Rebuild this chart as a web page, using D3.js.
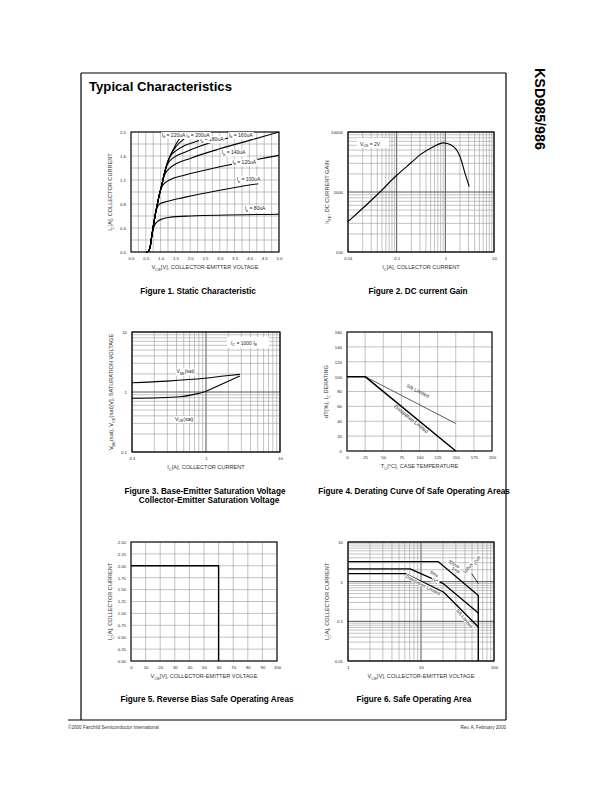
<!DOCTYPE html>
<html><head><meta charset="utf-8">
<script src="https://cdn.jsdelivr.net/npm/d3@7"></script>
<style>
body{margin:0;background:#fff}
svg{display:block}
text{font-family:"Liberation Sans",Arial,sans-serif}
.narrow{font-family:"Liberation Sans Narrow","Liberation Sans",Arial,sans-serif}
</style>
</head><body>
<svg id="page" width="612" height="792"></svg>
<script>
// ---------------- DATA ----------------
// Figure 1: Static characteristic (Vce [V], Ic [A])
const f1XTicks = [0,0.5,1,1.5,2,2.5,3,3.5,4,4.5,5];
const f1XLabels = ["0.0","0.5","1.0","1.5","2.0","2.5","3.0","3.5","4.0","4.5","5.0"];
const f1YTicks = [0,0.4,0.8,1.2,1.6,2.0];
const f1YLabels = ["0.0","0.4","0.8","1.2","1.6","2.0"];
const ib80  = [[0.53,0],[0.58,0.01],[0.62,0.04],[0.66,0.12],[0.70,0.26],[0.74,0.36],[0.80,0.45],[0.90,0.51],[1.05,0.55],[1.30,0.58],[2.00,0.60],[5.00,0.63]];
const ib100 = [[0.53,0],[0.58,0.01],[0.62,0.04],[0.66,0.12],[0.70,0.26],[0.75,0.42],[0.80,0.57],[0.85,0.69],[0.90,0.76],[0.97,0.80],[1.20,0.84],[1.80,0.91],[3.00,1.03],[4.30,1.14]];
const ib120 = [[0.53,0],[0.58,0.01],[0.62,0.04],[0.66,0.12],[0.70,0.26],[0.75,0.42],[0.80,0.57],[0.85,0.70],[0.90,0.82],[0.95,0.94],[1.00,1.03],[1.06,1.10],[1.14,1.15],[1.30,1.20],[1.80,1.28],[3.00,1.42],[5.00,1.61]];
const ib140 = [[0.53,0],[0.58,0.01],[0.62,0.04],[0.66,0.12],[0.70,0.26],[0.75,0.42],[0.80,0.57],[0.85,0.70],[0.90,0.82],[0.95,0.94],[1.00,1.04],[1.05,1.14],[1.10,1.24],[1.16,1.31],[1.25,1.37],[1.45,1.45],[2.00,1.56],[3.00,1.72],[4.00,1.86],[5.00,2.00]];
const ib160 = [[0.53,0],[0.58,0.01],[0.62,0.04],[0.66,0.12],[0.70,0.26],[0.75,0.42],[0.80,0.57],[0.85,0.70],[0.90,0.82],[0.95,0.94],[1.00,1.04],[1.05,1.14],[1.10,1.25],[1.15,1.35],[1.21,1.44],[1.28,1.50],[1.40,1.56],[1.80,1.66],[2.30,1.76],[2.80,1.84],[3.30,1.90]];
const ib180 = [[0.53,0],[0.58,0.01],[0.62,0.04],[0.66,0.12],[0.70,0.26],[0.75,0.42],[0.80,0.57],[0.85,0.70],[0.90,0.82],[0.95,0.94],[1.00,1.04],[1.05,1.14],[1.10,1.25],[1.15,1.35],[1.20,1.44],[1.27,1.54],[1.35,1.61],[1.50,1.68],[1.75,1.76],[2.00,1.81],[2.30,1.86]];
const ib200 = [[0.53,0],[0.58,0.01],[0.62,0.04],[0.66,0.12],[0.70,0.26],[0.75,0.42],[0.80,0.57],[0.85,0.70],[0.90,0.82],[0.95,0.94],[1.00,1.04],[1.05,1.14],[1.10,1.25],[1.15,1.35],[1.20,1.44],[1.27,1.54],[1.35,1.63],[1.45,1.71],[1.60,1.80],[1.75,1.87],[1.88,1.92]];
const ib220 = [[0.53,0],[0.58,0.01],[0.62,0.04],[0.66,0.12],[0.70,0.26],[0.75,0.42],[0.80,0.57],[0.85,0.70],[0.90,0.82],[0.95,0.94],[1.00,1.04],[1.05,1.14],[1.10,1.25],[1.15,1.35],[1.20,1.44],[1.27,1.54],[1.35,1.63],[1.45,1.73],[1.55,1.82],[1.66,1.90]];
const f1Series = [ib80, ib100, ib120, ib140, ib160, ib180, ib200, ib220];
const f1Labels = [
  {t:"I_{b} = 80uA",  x:3.84, y:0.70},
  {t:"I_{b} = 100uA", x:3.57, y:1.18},
  {t:"I_{b} = 120uA", x:3.43, y:1.47},
  {t:"I_{b} = 140uA", x:3.07, y:1.63},
  {t:"I_{b} = 160uA", x:3.31, y:1.92},
  {t:"I_{b} = 180uA", x:2.33, y:1.85},
  {t:"I_{b} = 200uA", x:1.86, y:1.92},
  {t:"I_{b} = 220uA", x:1.04, y:1.92}
];

// Figure 2: DC current gain (Ic [A], hFE)
const f2XTicks = [0.01,0.1,1,10];
const f2XLabels = ["0.01","0.1","1","10"];
const f2YTicks = [100,1000,10000];
const f2YLabels = ["100","1000","10000"];
const hfe = [[0.01,320],[0.046,1010],[0.1,1900],[0.2,3100],[0.3,4150],[0.57,5700],[0.91,6600],[1.35,6000],[2.0,3900],[2.54,2050],[3.1,1230]];

// Figure 3: saturation voltages (Ic [A], V)
const f3XTicks = [0.1,1,10];
const f3XLabels = ["0.1","1","10"];
const f3YTicks = [0.1,1,10];
const f3YLabels = ["0.1","1","10"];
const vbeSat = [[0.1,1.43],[0.3,1.52],[0.96,1.69],[2.0,1.88],[2.87,1.97]];
const vceSat = [[0.1,0.785],[0.44,0.835],[0.745,0.93],[0.96,1.01],[1.54,1.31],[2.87,1.85]];

// Figure 4: derating (Tc [C], %)
const f4XTicks = [0,25,50,75,100,125,150,175,200];
const f4XLabels = ["0","25","50","75","100","125","150","175","200"];
const f4YTicks = [0,20,40,60,80,100,120,140,160];
const f4YLabels = ["0","20","40","60","80","100","120","140","160"];
const dissLimited = [[0,100],[25,100],[150,0]];
const sbLimited = [[25,100],[150,37]];

// Figure 5: reverse bias SOA (Vce [V], Ic [A])
const f5XTicks = [0,10,20,30,40,50,60,70,80,90,100];
const f5XLabels = ["0","10","20","30","40","50","60","70","80","90","100"];
const f5YTicks = [0,0.25,0.5,0.75,1,1.25,1.5,1.75,2,2.25,2.5];
const f5YLabels = ["0.00","0.25","0.50","0.75","1.00","1.25","1.50","1.75","2.00","2.25","2.50"];
const rbsoa = [[0,2.0],[60,2.0],[60,0]];

// Figure 6: SOA (Vce [V], Ic [A])
const f6XTicks = [1,10,100];
const f6XLabels = ["1","10","100"];
const f6YTicks = [0.01,0.1,1,10];
const f6YLabels = ["0.01","0.1","1","10"];
const soaPulse = [[1,3.2],[17.3,3.2],[61,0.45],[61,0.01]];
const soaMid   = [[1,2.1],[7.1,2.1],[20.3,0.89],[61,0.162]];
const soaDC    = [[1,1.6],[6.07,1.6],[20.3,0.55],[61,0.072]];
const soa100us = [[49.5,1.6],[61,0.89]];
const f6Labels = [
  {t:"10us", x:60.4, y:3.26, r:-60},
  {t:"100us", x:45.5, y:2.05, r:-50},
  {t:"300us", x:27.5, y:2.58, r:30},
  {t:"1ms", x:29.3, y:1.82, r:30},
  {t:"5ms", x:14.7, y:1.45, r:30},
  {t:"DC", x:15.1, y:0.96, r:30},
  {t:"Dissipation Limited", x:10.4, y:0.76, r:28},
  {t:"S/b Limited", x:37.7, y:0.112, r:50}
];

// ---------------- DRAWING ----------------
const svg = d3.select("#page");

function rich(sel, str, fs) {
  const parts = str.split(/(_\{[^}]*\})/).filter(s => s.length);
  let sub = false;
  parts.forEach(p => {
    if (p.startsWith("_{")) {
      sel.append("tspan").attr("font-size", fs*0.72).attr("dy", fs*0.3).text(p.slice(2,-1));
      sub = true;
    } else {
      const t = sel.append("tspan").attr("font-size", fs).text(p);
      if (sub) { t.attr("dy", -fs*0.3); sub = false; }
    }
  });
  return sel;
}

function isMajor(v){ const l=Math.log10(v); return Math.abs(l-Math.round(l))<1e-6; }

function chart(o) {
  const g = svg.append("g").attr("transform", `translate(${o.left},${o.top})`);
  const x = (o.xLog ? d3.scaleLog() : d3.scaleLinear()).domain(o.xDomain).range([0, o.w]);
  const y = (o.yLog ? d3.scaleLog() : d3.scaleLinear()).domain(o.yDomain).range([o.h, 0]);
  const xg = o.xLog ? x.ticks() : o.xGrid;
  const yg = o.yLog ? y.ticks() : o.yGrid;
  g.append("g").selectAll("line").data(xg).join("line")
    .attr("x1", d=>x(d)).attr("x2", d=>x(d)).attr("y1",0).attr("y2",o.h)
    .attr("stroke", d => (o.xLog && isMajor(d)) ? "#555" : "#9a9a9a")
    .attr("stroke-width", d => (o.xLog && isMajor(d)) ? 1 : 0.6);
  g.append("g").selectAll("line").data(yg).join("line")
    .attr("y1", d=>y(d)).attr("y2", d=>y(d)).attr("x1",0).attr("x2",o.w)
    .attr("stroke", d => (o.yLog && isMajor(d)) ? "#555" : "#9a9a9a")
    .attr("stroke-width", d => (o.yLog && isMajor(d)) ? 1 : 0.6);
  g.append("rect").attr("width", o.w).attr("height", o.h).attr("fill","none")
    .attr("stroke","#000").attr("stroke-width",1.1);
  const ax = g.append("g").attr("transform", `translate(0,${o.h})`)
    .call(d3.axisBottom(x).tickValues(o.xTicks).tickFormat((d,i)=>o.xLabels[i]).tickSize(0).tickPadding(5));
  const ay = g.append("g")
    .call(d3.axisLeft(y).tickValues(o.yTicks).tickFormat((d,i)=>o.yLabels[i]).tickSize(0).tickPadding(5));
  [ax, ay].forEach(a => {
    a.select(".domain").remove();
    a.selectAll("text").attr("font-size", 4.3).attr("fill", "#222").attr("font-family", '"Liberation Sans",Arial,sans-serif');
  });
  const xt = g.append("text").attr("x", o.w/2 + (o.xtDx||0)).attr("y", o.h + 17)
    .attr("text-anchor","middle").attr("fill","#333");
  rich(xt, o.xTitle, 5.6);
  const yt = g.append("text").attr("transform", `translate(${-19},${o.h/2 + (o.ytDy||0)}) rotate(-90)`)
    .attr("text-anchor","middle").attr("fill","#333");
  rich(yt, o.yTitle, 5.6);
  return {g, x, y};
}

function drawLine(c, data, sw, curve, color) {
  c.g.append("path").datum(data)
    .attr("d", d3.line().x(d=>c.x(d[0])).y(d=>c.y(d[1])).curve(curve || d3.curveLinear))
    .attr("fill","none").attr("stroke", color || "#000").attr("stroke-width", sw)
    .attr("stroke-linejoin","round");
}

function label(c, str, px, py, fs, rot, anchor, bg) {
  const t = c.g.append("text").attr("transform", `translate(${px},${py}) rotate(${rot||0})`)
    .attr("text-anchor", anchor || "start").attr("fill","#222");
  rich(t, str, fs);
  if (bg) {
    const b = t.node().getBBox();
    c.g.insert("rect", () => t.node())
      .attr("transform", `translate(${px},${py}) rotate(${rot||0})`)
      .attr("x", b.x-0.6).attr("y", b.y+0.3).attr("width", b.width+1.2).attr("height", b.height-0.6)
      .attr("fill","#fff");
  }
  return t;
}

// Page frame
svg.append("line").attr("x1",81).attr("x2",81).attr("y1",73).attr("y2",720).attr("stroke","#000").attr("stroke-width",1.2);
svg.append("line").attr("x1",81).attr("x2",506).attr("y1",73).attr("y2",73).attr("stroke","#000").attr("stroke-width",1.2);
svg.append("line").attr("x1",506).attr("x2",506).attr("y1",73).attr("y2",720).attr("stroke","#000").attr("stroke-width",1.2);
svg.append("line").attr("x1",68).attr("x2",506).attr("y1",720).attr("y2",720).attr("stroke","#000").attr("stroke-width",1.2);

svg.append("text").attr("x",89).attr("y",91).attr("font-size",13.5).attr("font-weight","bold")
  .attr("class","narrow").attr("textLength",143).attr("lengthAdjust","spacingAndGlyphs").text("Typical Characteristics");
svg.append("text").attr("transform","translate(535,68) rotate(90)").attr("font-size",14).attr("font-weight","bold")
  .attr("textLength",82).attr("lengthAdjust","spacingAndGlyphs").text("KSD985/986");
svg.append("text").attr("x",68).attr("y",729).attr("font-size",4.6).attr("fill","#333").text("©2000 Fairchild Semiconductor International");
svg.append("text").attr("x",506).attr("y",729).attr("font-size",4.6).attr("fill","#333").attr("text-anchor","end").text("Rev. A, February 2000");

function caption(str, cx, by) {
  svg.append("text").attr("x",cx).attr("y",by).attr("text-anchor","middle").attr("font-size",8.2)
    .attr("font-weight","bold").attr("class","narrow").text(str);
}
caption("Figure 1. Static Characteristic", 198, 294);
caption("Figure 2. DC current Gain", 418, 294);
caption("Figure 3. Base-Emitter Saturation Voltage", 205, 494);
caption("Collector-Emitter Saturation Voltage", 209, 503);
caption("Figure 4. Derating Curve Of Safe Operating Areas", 414, 494);
caption("Figure 5. Reverse Bias Safe Operating Areas", 207, 702);
caption("Figure 6. Safe Operating Area", 414, 702);

// Figure 1
const c1 = chart({left:131, top:132, w:148, h:120, xDomain:[0,5], yDomain:[0,2],
  xGrid:d3.range(0,5.001,0.25), yGrid:d3.range(0,2.001,0.2),
  xTicks:f1XTicks, xLabels:f1XLabels, yTicks:f1YTicks, yLabels:f1YLabels,
  xTitle:"V_{CE}[V], COLLECTOR-EMITTER VOLTAGE", yTitle:"I_{C}[A], COLLECTOR CURRENT"});
f1Series.forEach(s => drawLine(c1, s, 1.1, d3.curveMonotoneX));
f1Labels.forEach(l => label(c1, l.t, c1.x(l.x), c1.y(l.y), 5, 0, "start", true));

// Figure 2
const c2 = chart({left:348, top:132, w:146, h:120, xLog:true, yLog:true, xDomain:[0.01,10], yDomain:[100,10000],
  xTicks:f2XTicks, xLabels:f2XLabels, yTicks:f2YTicks, yLabels:f2YLabels,
  xTitle:"I_{C}[A], COLLECTOR CURRENT", yTitle:"h_{FE}, DC CURRENT GAIN"});
drawLine(c2, hfe, 1.1, d3.curveMonotoneX);
c2.g.append("rect").attr("x",9).attr("y",6).attr("width",32).attr("height",10).attr("fill","#fff");
label(c2, "V_{CE} = 2V", 12, 13.5, 5, 0, "start", false);

// Figure 3
const c3 = chart({left:132, top:332, w:148, h:120, xLog:true, yLog:true, xDomain:[0.1,10], yDomain:[0.1,10],
  xTicks:f3XTicks, xLabels:f3XLabels, yTicks:f3YTicks, yLabels:f3YLabels,
  xTitle:"I_{C}[A], COLLECTOR CURRENT", yTitle:"V_{BE}(sat), V_{CE}(sat)[V], SATURATION VOLTAGE"});
drawLine(c3, vbeSat, 1.1, d3.curveMonotoneX);
drawLine(c3, vceSat, 1.1, d3.curveMonotoneX);
c3.g.append("rect").attr("x",95).attr("y",5).attr("width",42).attr("height",11).attr("fill","#fff");
label(c3, "I_{C} = 1000 I_{B}", 99, 12.5, 5, 0, "start", false);
label(c3, "V_{BE}(sat)", c3.x(0.4), c3.y(2.05), 5, 0, "start", true);
label(c3, "V_{CE}(sat)", c3.x(0.38), c3.y(0.33), 5, 0, "start", true);

// Figure 4
const c4 = chart({left:347, top:332, w:145, h:119, xDomain:[0,200], yDomain:[0,160],
  xGrid:f4XTicks, yGrid:f4YTicks,
  xTicks:f4XTicks, xLabels:f4XLabels, yTicks:f4YTicks, yLabels:f4YLabels,
  xTitle:"T_{C}[°C], CASE TEMPERATURE", yTitle:"dT(%), I_{C} DERATING"});
drawLine(c4, sbLimited, 0.8, null, "#333");
drawLine(c4, dissLimited, 1.5);
label(c4, "S/b Limited", c4.x(96.6), c4.y(78.8), 5, 27, "middle", false);
label(c4, "Dissipation Limited", c4.x(87), c4.y(41.4), 5, 39, "middle", false);

// Figure 5
const c5 = chart({left:131, top:542, w:146, h:119, xDomain:[0,100], yDomain:[0,2.5],
  xGrid:f5XTicks, yGrid:f5YTicks,
  xTicks:f5XTicks, xLabels:f5XLabels, yTicks:f5YTicks, yLabels:f5YLabels,
  xTitle:"V_{CE}[V], COLLECTOR-EMITTER VOLTAGE", yTitle:"I_{C}[A], COLLECTOR CURRENT"});
drawLine(c5, rbsoa, 1.4);

// Figure 6
const c6 = chart({left:348, top:542, w:146, h:119, xLog:true, yLog:true, xDomain:[1,100], yDomain:[0.01,10],
  xTicks:f6XTicks, xLabels:f6XLabels, yTicks:f6YTicks, yLabels:f6YLabels,
  xTitle:"V_{CE}[V], COLLECTOR-EMITTER VOLTAGE", yTitle:"I_{C}[A], COLLECTOR CURRENT"});
[soaPulse, soaMid, soaDC].forEach(s => drawLine(c6, s, 1.3));
drawLine(c6, soa100us, 0.8);
f6Labels.forEach(l => label(c6, l.t, c6.x(l.x), c6.y(l.y), 4.6, l.r, "middle", true));
</script>
</body></html>
